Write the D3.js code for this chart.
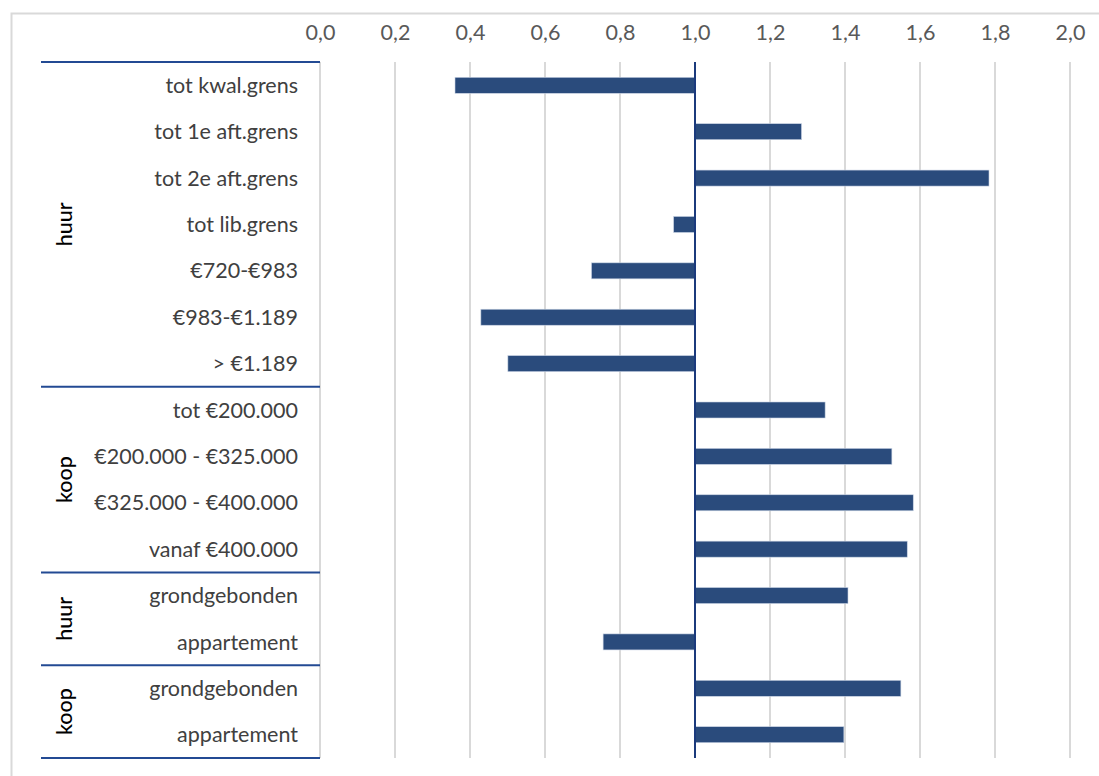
<!DOCTYPE html>
<html>
<head>
<meta charset="utf-8">
<script src="https://cdn.jsdelivr.net/npm/d3@7"></script>
<style>
  html, body { margin: 0; padding: 0; background: #fff; }
  svg { display: block; font-family: Lato, "Open Sans", sans-serif; }
</style>
</head>
<body>
<svg id="chart" width="1099" height="776"></svg>
<script>
// Index values per housing segment (1,0 = reference level)
const categories = [
  "tot kwal.grens", "tot 1e aft.grens", "tot 2e aft.grens", "tot lib.grens",
  "€720-€983", "€983-€1.189", "> €1.189",
  "tot €200.000", "€200.000 - €325.000", "€325.000 - €400.000", "vanaf €400.000",
  "grondgebonden", "appartement",
  "grondgebonden", "appartement"
];
const values = [
  0.36, 1.284, 1.784, 0.943,
  0.724, 0.429, 0.501,
  1.347, 1.525, 1.582, 1.566,
  1.408, 0.755,
  1.549, 1.397
];
// Group headers: label and the number of categories they span
const groups = ["huur", "koop", "huur", "koop"];
const groupSizes = [7, 4, 2, 2];
const tickValues = [0, 0.2, 0.4, 0.6, 0.8, 1.0, 1.2, 1.4, 1.6, 1.8, 2.0];
const baseline = 1.0;

const svg = d3.select("#chart");
const W = 1099, H = 776;
const plot = { left: 320, right: 1070, top: 62, bottom: 758 };
const labelLeft = 41;
const fontSize = 21.5;

// outer chart frame
svg.append("rect")
  .attr("x", 11.5).attr("y", 13.5)
  .attr("width", W + 20).attr("height", H + 20)
  .attr("fill", "none").attr("stroke", "#d9d9d9").attr("stroke-width", 2);

const x = d3.scaleLinear().domain([0, 2]).range([plot.left, plot.right]);
const rowIds = categories.map((d, i) => i);
const y = d3.scaleBand().domain(rowIds).range([plot.top, plot.bottom]).paddingInner(0.655).paddingOuter(0.33);
const yRow = d3.scaleBand().domain(rowIds).range([plot.top, plot.bottom]);

const fmt = d => d3.format(".1f")(d).replace(".", ",");

// vertical gridlines
svg.append("g").selectAll("line").data(tickValues).join("line")
  .attr("x1", d => x(d)).attr("x2", d => x(d))
  .attr("y1", plot.top).attr("y2", plot.bottom)
  .attr("stroke", "#d9d9d9").attr("stroke-width", 2);

// top value axis
const axis = svg.append("g")
  .attr("transform", `translate(0,${plot.top - 19})`)
  .call(d3.axisTop(x).tickValues(tickValues).tickFormat(fmt).tickSize(0));
axis.select(".domain").remove();
axis.selectAll("text")
  .attr("font-size", fontSize).attr("fill", "#595959")
  .attr("font-family", "Lato, 'Open Sans', sans-serif");

// bars measured from the baseline
svg.append("g").selectAll("rect").data(values).join("rect")
  .attr("x", d => x(Math.min(d, baseline)))
  .attr("width", d => Math.abs(x(d) - x(baseline)))
  .attr("y", (d, i) => y(i))
  .attr("height", y.bandwidth())
  .attr("fill", "#2a4b7c")
  .attr("stroke", "#c9d3e3").attr("stroke-width", 0.6);

// baseline at 1,0
svg.append("line")
  .attr("x1", x(baseline)).attr("x2", x(baseline))
  .attr("y1", plot.top).attr("y2", plot.bottom)
  .attr("stroke", "#1b3a7c").attr("stroke-width", 2);

// category labels
svg.append("g").selectAll("text").data(categories).join("text")
  .attr("x", 298)
  .attr("y", (d, i) => yRow(i) + yRow.bandwidth() / 2)
  .attr("dy", "0.35em")
  .attr("text-anchor", "end")
  .attr("font-size", fontSize)
  .attr("fill", "#404040")
  .text(d => d);

// group separators and rotated group labels
let start = 0;
const bounds = [0];
groupSizes.forEach(n => { start += n; bounds.push(start); });
const rowY = i => i < categories.length ? yRow(i) : plot.bottom;

svg.append("g").selectAll("line").data(bounds).join("line")
  .attr("x1", labelLeft).attr("x2", plot.left)
  .attr("y1", d => rowY(d)).attr("y2", d => rowY(d))
  .attr("stroke", "#234a93").attr("stroke-width", 2);

svg.append("g").selectAll("text").data(groups).join("text")
  .attr("transform", (d, i) => {
    const cy = (rowY(bounds[i]) + rowY(bounds[i + 1])) / 2;
    return `translate(64,${cy}) rotate(-90)`;
  })
  .attr("dy", "0.35em")
  .attr("text-anchor", "middle")
  .attr("font-size", fontSize)
  .attr("font-weight", 500)
  .attr("fill", "#000")
  .text(d => d);
</script>
</body>
</html>
